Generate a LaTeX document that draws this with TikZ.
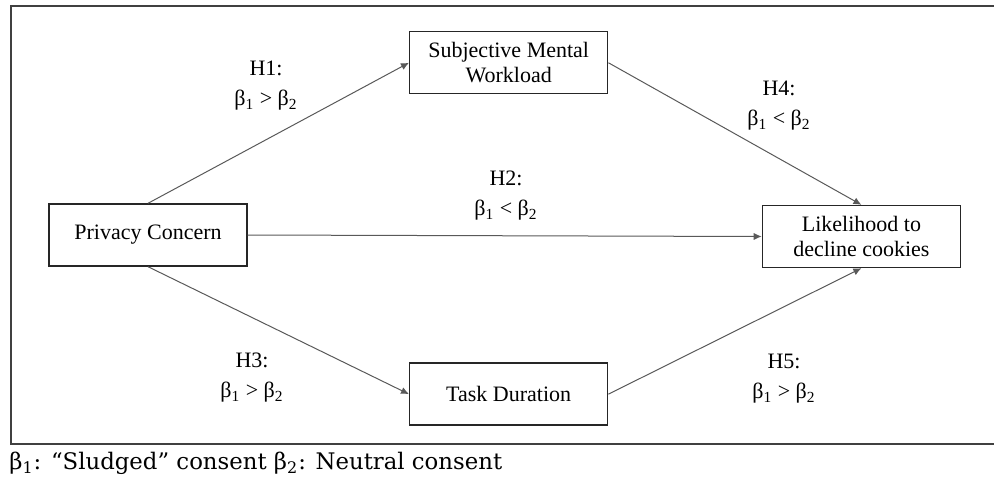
\documentclass[tikz,border=0pt]{standalone}
\usepackage{fontspec}
\setmainfont{Liberation Serif}
\newfontfamily\keyfont{DejaVu Serif}
\usetikzlibrary{positioning, arrows.meta, calc}

\begin{document}
\begin{tikzpicture}[x=0.5pt, y=-0.5pt, >={Latex[length=4pt,width=3.6pt]},
		construct/.style={rectangle, text centered, align=center, draw=black!85, line width=0.7pt, minimum width=99pt, minimum height=31pt, inner sep=2pt, font=\fontsize{11}{12.5}\selectfont},
		hyp/.style={align=center, inner sep=0pt, font=\fontsize{11}{15}\selectfont},
		link/.style={->, draw=black!65, line width=0.5pt}]
		
		\useasboundingbox (0,0) rectangle (994,477);
		\draw[black!75, line width=1pt] (994,6) -- (10.5,6) -- (10.5,444) -- (994,444);
		
		\node[construct] (Privacy) at (148,235) {Privacy Concern};
		
		\node[construct] (Decline) [right=257pt of Privacy, yshift=-0.75pt] {Likelihood to\\decline cookies};
		
		\node[construct] (Workload) [xshift=2pt, yshift=86.5pt] at ($(Privacy)!0.5!(Decline)$) {Subjective Mental\\Workload};
		
		\node[construct] (Duration) [below=134pt of Workload] {Task Duration};
		
		\node[hyp] (H1) at (266,86) {H1:\\β\textsubscript{1} > β\textsubscript{2}};
		\node[hyp] (H2) at (506,196) {H2:\\β\textsubscript{1} < β\textsubscript{2}};
		\node[hyp] (H3) at (252,378) {H3:\\β\textsubscript{1} > β\textsubscript{2}};
		\node[hyp] (H4) at (779,106) {H4:\\β\textsubscript{1} < β\textsubscript{2}};
		\node[hyp] (H5) at (784,379) {H5:\\β\textsubscript{1} > β\textsubscript{2}};
		
		\draw[link] (Privacy.north) -- (Workload.west);
		\draw[link] (Privacy.east) -- (Decline.west);
		\draw[link] (Privacy.south) -- (Duration.west);
		\draw[link] (Workload.east) -- (Decline.north);
		\draw[link] (Duration.east) -- (Decline.south);
		
		\node[anchor=west, inner sep=0pt, font=\keyfont\fontsize{11.4}{13}\selectfont] (Key) at (9,463)
		{β\textsubscript{1}: “Sludged” consent β\textsubscript{2}: Neutral consent};
		
	\end{tikzpicture}
\end{document}
